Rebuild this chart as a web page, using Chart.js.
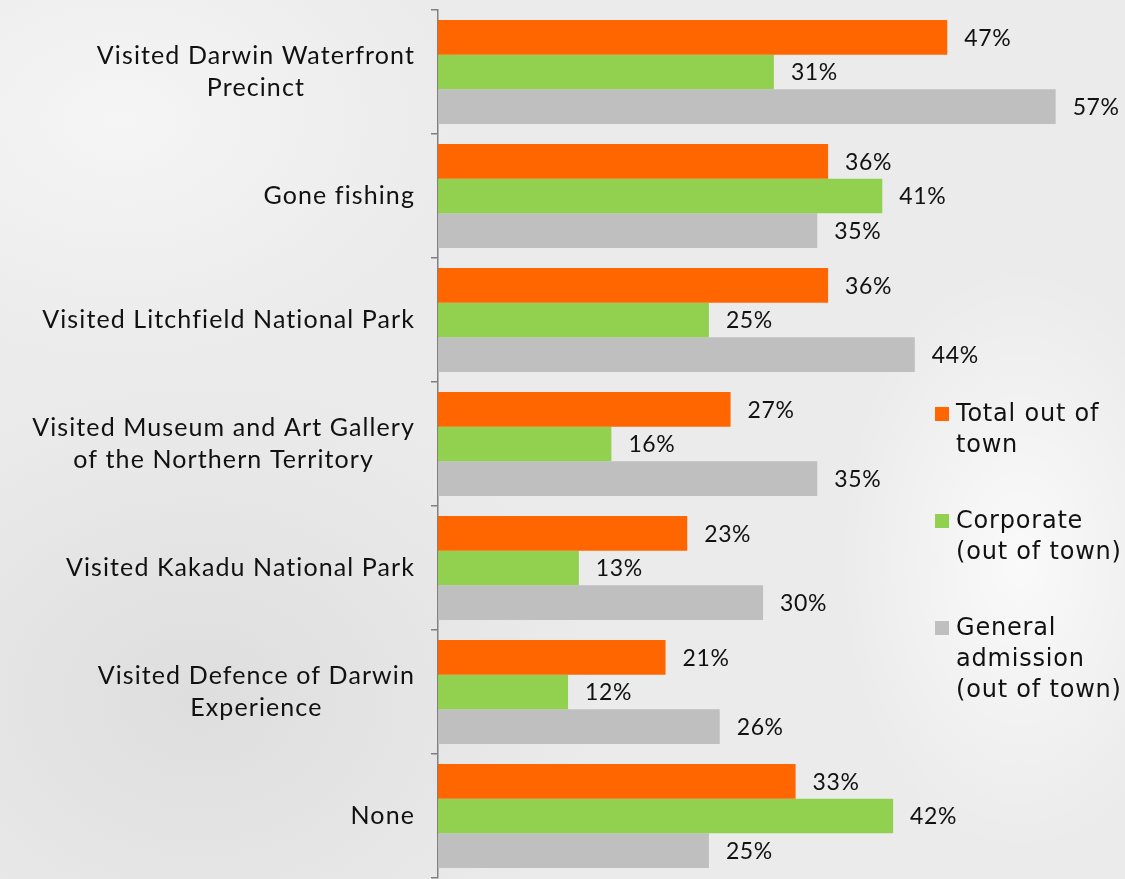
<!DOCTYPE html>
<html>
<head>
<meta charset="utf-8">
<script src="https://cdn.jsdelivr.net/npm/chart.js@4"></script>
<style>
  html, body { margin: 0; padding: 0; }
  body {
    width: 1125px; height: 879px; overflow: hidden; position: relative;
    background:
      radial-gradient(ellipse 260px 420px at 1020px 560px, rgba(255,255,255,0.75), rgba(255,255,255,0) 70%),
      radial-gradient(ellipse 420px 300px at 120px 120px, #f5f5f5, rgba(245,245,245,0) 80%),
      radial-gradient(ellipse 500px 400px at 200px 700px, #dedede, rgba(222,222,222,0) 80%),
      #ebebeb;
  }
  #wrap { position: absolute; left: 0; top: 0; width: 1125px; height: 879px; }
  #legend { position: absolute; left: 935px; top: 398px; font-family: "DejaVu Sans", sans-serif; font-size: 24px; color: #111; }
  .item { position: absolute; left: 0; width: 190px; line-height: 31px; white-space: nowrap; }
  .item .sw { position: absolute; left: 0; top: 9px; width: 14px; height: 14px; }
  .item .tx { margin-left: 21px; letter-spacing: 0.8px; }
</style>
</head>
<body>
<div id="wrap"><canvas id="chart" width="1125" height="879"></canvas></div>
<div id="legend"></div>
<script>
// -------------------------
// DATA
// -------------------------
const categories = [
  ["Visited Darwin Waterfront", "Precinct"],
  "Gone fishing",
  "Visited Litchfield National Park",
  ["Visited Museum and Art Gallery", "of the Northern Territory"],
  "Visited Kakadu National Park",
  ["Visited Defence of Darwin", "Experience"],
  "None"
];
const seriesNames = [
  ["Total out of", "town"],
  ["Corporate", "(out of town)"],
  ["General", "admission", "(out of town)"]
];
const totalOutOfTown = [47, 36, 36, 27, 23, 21, 33];
const corporate = [31, 41, 25, 16, 13, 12, 42];
const generalAdmission = [57, 35, 44, 35, 30, 26, 25];
const colors = ["#FF6600", "#92D050", "#BFBFBF"];

// -------------------------
// Plugins: value labels + category labels (lines centred, block right aligned)
// -------------------------
const valueLabels = {
  id: "valueLabels",
  afterDatasetsDraw(chart) {
    const ctx = chart.ctx;
    ctx.save();
    ctx.font = '23px "Lato", sans-serif';
    ctx.letterSpacing = "0.6px";
    ctx.fillStyle = "#111";
    ctx.textAlign = "left";
    ctx.textBaseline = "middle";
    chart.data.datasets.forEach((ds, i) => {
      chart.getDatasetMeta(i).data.forEach((bar, j) => {
        ctx.fillText(ds.data[j] + "%", bar.x + 17, bar.y + 1);
      });
    });
    ctx.restore();
  }
};

const catLabels = {
  id: "catLabels",
  afterDraw(chart) {
    const ctx = chart.ctx;
    const y = chart.scales.y;
    const right = y.right - 23;
    const lineH = 32;
    ctx.save();
    ctx.font = '25px "Lato", sans-serif';
    ctx.letterSpacing = "1.1px";
    ctx.fillStyle = "#111";
    ctx.textAlign = "center";
    ctx.textBaseline = "middle";
    categories.forEach((lab, i) => {
      const lines = Array.isArray(lab) ? lab : [lab];
      const w = Math.max(...lines.map(l => ctx.measureText(l).width));
      const cx = right - w / 2;
      const cy = y.getPixelForTick(i);
      lines.forEach((l, k) => {
        ctx.fillText(l, cx, cy + (k - (lines.length - 1) / 2) * lineH);
      });
    });
    ctx.restore();
  }
};

// -------------------------
// Chart
// -------------------------
const ctx = document.getElementById("chart").getContext("2d");
new Chart(ctx, {
  type: "bar",
  data: {
    labels: categories,
    datasets: [
      { label: seriesNames[0].join(" "), data: totalOutOfTown, backgroundColor: colors[0] },
      { label: seriesNames[1].join(" "), data: corporate, backgroundColor: colors[1] },
      { label: seriesNames[2].join(" "), data: generalAdmission, backgroundColor: colors[2] }
    ]
  },
  options: {
    indexAxis: "y",
    responsive: false,
    animation: false,
    layout: { padding: { top: 10, bottom: 1, right: 0, left: 0 } },
    datasets: { bar: { categoryPercentage: 0.84, barPercentage: 1.0 } },
    scales: {
      x: { display: false, min: 0, max: 63.4 },
      y: {
        afterFit: s => { s.width = 438; s.paddingTop = 0; s.paddingBottom = 0; },
        border: { color: "#808080", width: 1.5 },
        grid: { offset: true, drawOnChartArea: false, tickLength: 7, color: "#808080", lineWidth: 1.5 },
        ticks: { color: "rgba(0,0,0,0)", font: { family: "Lato", size: 25 }, padding: 14 }
      }
    },
    plugins: { legend: { display: false }, tooltip: { enabled: false } }
  },
  plugins: [valueLabels, catLabels]
});

// legend as html (multi-line labels)
const legend = document.getElementById("legend");
const tops = [0, 107, 214];
seriesNames.forEach((lines, i) => {
  const d = document.createElement("div");
  d.className = "item";
  d.style.top = tops[i] + "px";
  d.innerHTML = '<span class="sw" style="background:' + colors[i] + '"></span><div class="tx">' + lines.join("<br>") + "</div>";
  legend.appendChild(d);
});
</script>
</body>
</html>
